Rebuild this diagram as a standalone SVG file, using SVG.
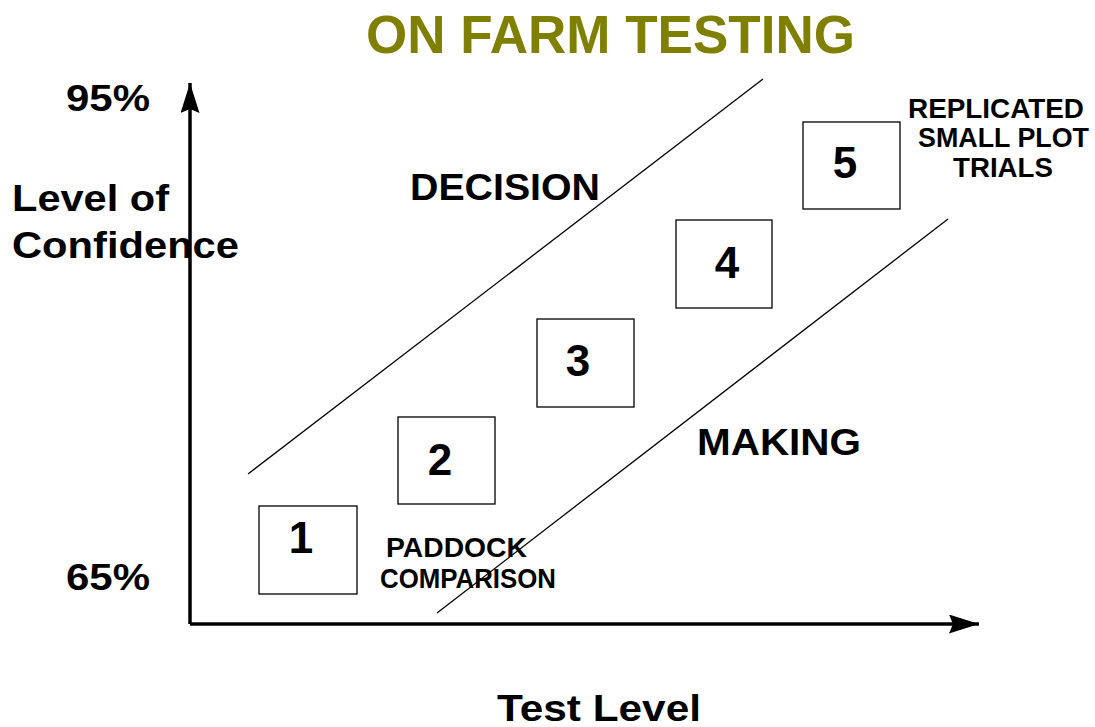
<svg xmlns="http://www.w3.org/2000/svg" width="1095" height="727" viewBox="0 0 1095 727">
<style>
text{font-family:"Liberation Sans",Arial,sans-serif;font-weight:bold;fill:#000}
.title{fill:#808000;font-size:54px}
.ax{font-size:37px}
.sm{font-size:27px}
.num{font-size:44px}
.box{fill:#fff;stroke:#000;stroke-width:1.3}
.diag{stroke:#000;stroke-width:1.3;fill:none}
.axis{stroke:#000;stroke-width:3.5;fill:none}
</style>
<defs>
<marker id="ah" markerUnits="userSpaceOnUse" markerWidth="32" markerHeight="20" refX="30" refY="9.5" orient="auto">
<path d="M0,0 L30,9.5 L0,19 L4,9.5 Z" fill="#000"/>
</marker>
</defs>
<rect width="1095" height="727" fill="#fff"/>
<text class="title" x="366" y="53" textLength="489" lengthAdjust="spacingAndGlyphs">ON FARM TESTING</text>
<g id="connectors">
<line class="axis" x1="190" y1="624" x2="190" y2="83" marker-end="url(#ah)"/>
<line class="axis" x1="190" y1="624" x2="979" y2="624" marker-end="url(#ah)"/>
<line class="diag" x1="248" y1="474" x2="763" y2="79"/>
<line class="diag" x1="437" y1="613" x2="948" y2="219"/>
</g>
<g id="labels">
<text class="ax" x="66" y="111" textLength="84" lengthAdjust="spacingAndGlyphs">95%</text>
<text class="ax" x="66" y="590" textLength="84" lengthAdjust="spacingAndGlyphs">65%</text>
<text class="ax" x="12" y="211" textLength="157" lengthAdjust="spacingAndGlyphs">Level of</text>
<text class="ax" x="12" y="258" textLength="227" lengthAdjust="spacingAndGlyphs">Confidence</text>
<text class="ax" x="497" y="721" textLength="204" lengthAdjust="spacingAndGlyphs">Test Level</text>
<text class="ax" x="410" y="200" textLength="190" lengthAdjust="spacingAndGlyphs">DECISION</text>
<text class="ax" x="697" y="455" textLength="164" lengthAdjust="spacingAndGlyphs">MAKING</text>
<text class="sm" x="386" y="557" textLength="141" lengthAdjust="spacingAndGlyphs">PADDOCK</text>
<text class="sm" x="380" y="588" textLength="176" lengthAdjust="spacingAndGlyphs">COMPARISON</text>
<text class="sm" x="908" y="118" textLength="176" lengthAdjust="spacingAndGlyphs">REPLICATED</text>
<text class="sm" x="918" y="147" textLength="171" lengthAdjust="spacingAndGlyphs">SMALL PLOT</text>
<text class="sm" x="953" y="177" textLength="100" lengthAdjust="spacingAndGlyphs">TRIALS</text>
</g>
<g id="node1"><rect class="box" x="259" y="506" width="98" height="88"/><text class="num" x="301" y="553" text-anchor="middle">1</text></g>
<g id="node2"><rect class="box" x="398" y="417" width="97" height="87"/><text class="num" x="440" y="475" text-anchor="middle">2</text></g>
<g id="node3"><rect class="box" x="537" y="319" width="97" height="88"/><text class="num" x="578" y="376" text-anchor="middle">3</text></g>
<g id="node4"><rect class="box" x="676" y="220" width="96" height="88"/><text class="num" x="727" y="278" text-anchor="middle">4</text></g>
<g id="node5"><rect class="box" x="803" y="122" width="97" height="87"/><text class="num" x="845" y="178" text-anchor="middle">5</text></g>
</svg>
